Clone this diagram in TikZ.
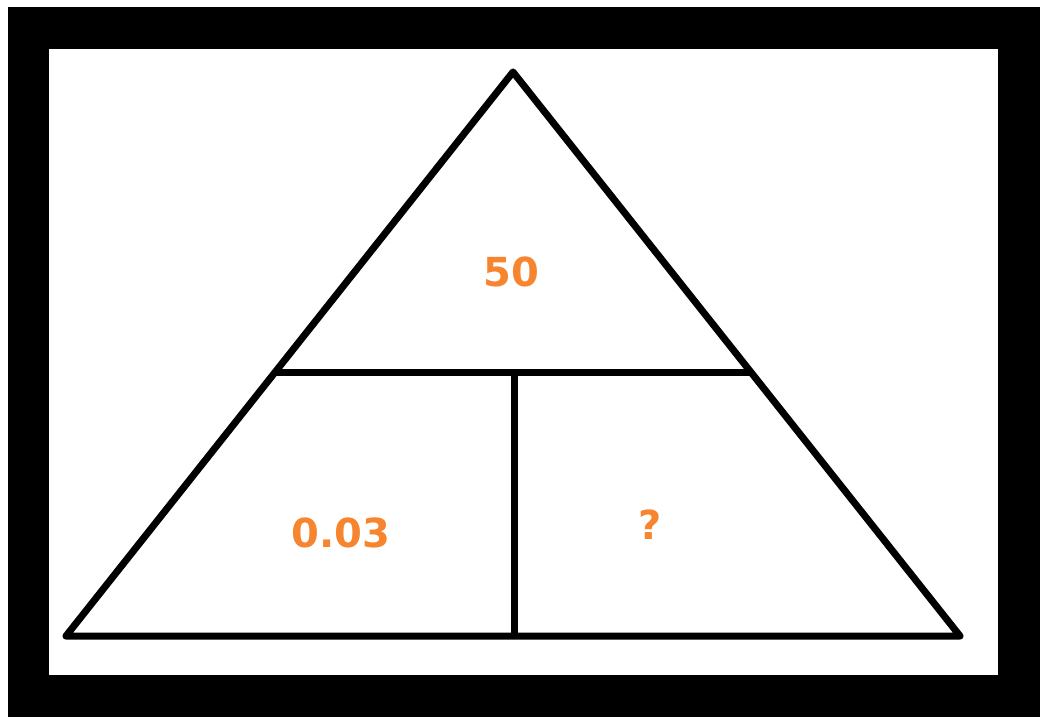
\documentclass[tikz,border=0pt]{standalone}
\usepackage{fontspec}
\usetikzlibrary{calc}
\newfontfamily\valuefont{DejaVu Sans}[BoldFont={DejaVu Sans Bold}]
\definecolor{xorange}{HTML}{F7842E}
\tikzset{
	edge/.style={line width=7pt, line cap=round, line join=round},
	value/.style={font=\valuefont\bfseries\fontsize{40}{48}\selectfont, text=xorange, inner sep=0pt},
}

\begin{document}
\begin{tikzpicture}[x=1pt, y=-1pt]
	\useasboundingbox (0,0) rectangle (1043,722);
	\fill[white] (0,0) rectangle (1043,722);
	
	% frame
	\fill[black] (8,7) rectangle (1040,717);
	\fill[white] (49,49) rectangle (998,675);
	
	\coordinate (top) at (513,72);
	\coordinate (bl) at (66,636);
	\coordinate (br) at (960,636);
	\coordinate (ml) at ($(top)!0.532!(bl)$);
	\coordinate (mr) at ($(top)!0.532!(br)$);
	\coordinate (mc) at (514,372);
	\coordinate (bc) at (514,636);
	
	\draw[edge] (top) -- (bl) -- (br) -- cycle;
	\draw[edge, line cap=butt] (ml) -- (mr);
	\draw[edge, line cap=butt] (mc) -- (bc);
	
	\node[value] (topval) at (511,272) {50};
	\node[value] (leftval) at (341,533) {0.03};
	\node[value] (rightval) at (650,525) {?};
\end{tikzpicture}
\end{document}
